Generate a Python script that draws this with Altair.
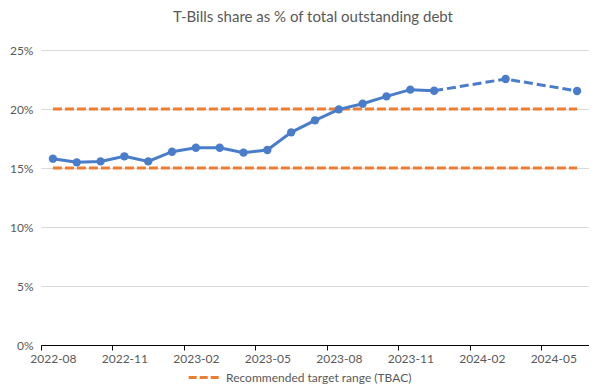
import json
import altair as alt
import pandas as pd

# ---------------- data ----------------
months = ["2022-08", "2022-09", "2022-10", "2022-11", "2022-12",
          "2023-01", "2023-02", "2023-03", "2023-04", "2023-05",
          "2023-06", "2023-07", "2023-08", "2023-09", "2023-10",
          "2023-11", "2023-12", "2024-03", "2024-06"]
share = [15.79, 15.48, 15.56, 15.99, 15.56,
         16.38, 16.72, 16.72, 16.30, 16.53,
         18.02, 19.04, 19.97, 20.45, 21.07,
         21.64, 21.55, 22.54, 21.53]
n_actual = 17  # first 17 points are actual, the rest projected

target_levels = [20, 15]
target_name = "Recommended target range (TBAC)"

x_tick_labels = ["2022-08", "2022-11", "2023-02", "2023-05",
                 "2023-08", "2023-11", "2024-02", "2024-05"]
y_ticks = [0, 5, 10, 15, 20, 25]
title_text = "T-Bills share as % of total outstanding debt"

START_Y, START_M = 2022, 8
N_SLOTS = 23  # 2022-08 .. 2024-06


def slot(m):
    y, mo = map(int, m.split("-"))
    return (y - START_Y) * 12 + (mo - START_M)


df = pd.DataFrame({"month": months,
                   "x": [slot(m) + 0.5 for m in months],
                   "share": share})
actual = df.iloc[:n_actual]
proj = df.iloc[n_actual - 1:]

trows = []
for lvl in target_levels:
    for m in (months[0], months[-1]):
        trows.append({"x": slot(m) + 0.5, "v": lvl, "level": str(lvl), "series": target_name})
tdf = pd.DataFrame(trows)

tick_vals = [slot(l) for l in x_tick_labels]
lab_map = json.dumps({str(slot(l)): l for l in x_tick_labels})

W, H = 548, 295
BLUE = "#4A7DC9"
ORANGE = "#ED7D31"
FONT = "Lato"
GREY = "#595959"

x_enc = alt.X("x:Q",
              scale=alt.Scale(domain=[0, N_SLOTS], nice=False, zero=False),
              axis=alt.Axis(values=tick_vals, labelExpr=f"{lab_map}[''+datum.value]",
                            labelOffset=W / N_SLOTS / 2, labelFlush=False, labelBound=False,
                            grid=False, title=None,
                            domainColor="#000000", tickColor="#000000", tickSize=5,
                            labelPadding=3, labelFontSize=12, labelColor=GREY,
                            labelFont=FONT))
y_scale = alt.Scale(domain=[0, 25], nice=False)
y_axis = alt.Axis(values=y_ticks, labelExpr="datum.value + '%'", title=None,
                  domain=False, ticks=False, grid=True, gridColor="#D9D9D9",
                  labelPadding=8, labelFontSize=12, labelColor=GREY, labelFont=FONT)

target = alt.Chart(tdf).mark_line(strokeWidth=3, strokeDash=[9, 3]).encode(
    x=x_enc,
    y=alt.Y("v:Q", scale=y_scale, axis=y_axis),
    detail="level:N",
    color=alt.Color("series:N",
                    scale=alt.Scale(domain=[target_name], range=[ORANGE]),
                    legend=alt.Legend(title=None, orient="none", legendX=146, legendY=310,
                                      symbolType="stroke", symbolDash=[8, 3],
                                      symbolStrokeWidth=3, symbolSize=1000,
                                      labelFontSize=12, labelColor=GREY, labelFont=FONT,
                                      labelLimit=400, padding=0)),
)

line_actual = alt.Chart(actual).mark_line(strokeWidth=3, color=BLUE).encode(
    x=alt.X("x:Q"), y=alt.Y("share:Q"))
line_proj = alt.Chart(proj).mark_line(strokeWidth=3, color=BLUE, strokeDash=[9, 4]).encode(
    x=alt.X("x:Q"), y=alt.Y("share:Q"))
pts = alt.Chart(df).mark_point(filled=True, size=70, color=BLUE, opacity=1).encode(
    x=alt.X("x:Q"), y=alt.Y("share:Q"))

chart = alt.layer(target, line_actual, line_proj, pts).properties(
    width=W, height=H,
    title=alt.TitleParams(title_text, fontSize=15, color=GREY, font=FONT,
                          fontWeight="normal", anchor="middle", offset=19, dx=-2),
    padding={"left": 33, "top": 42, "right": 0, "bottom": 39},
    autosize=alt.AutoSizeParams(type="none"),
).configure_view(stroke=None)

chart.save("out.html", embed_options={"renderer": "svg", "actions": False})
